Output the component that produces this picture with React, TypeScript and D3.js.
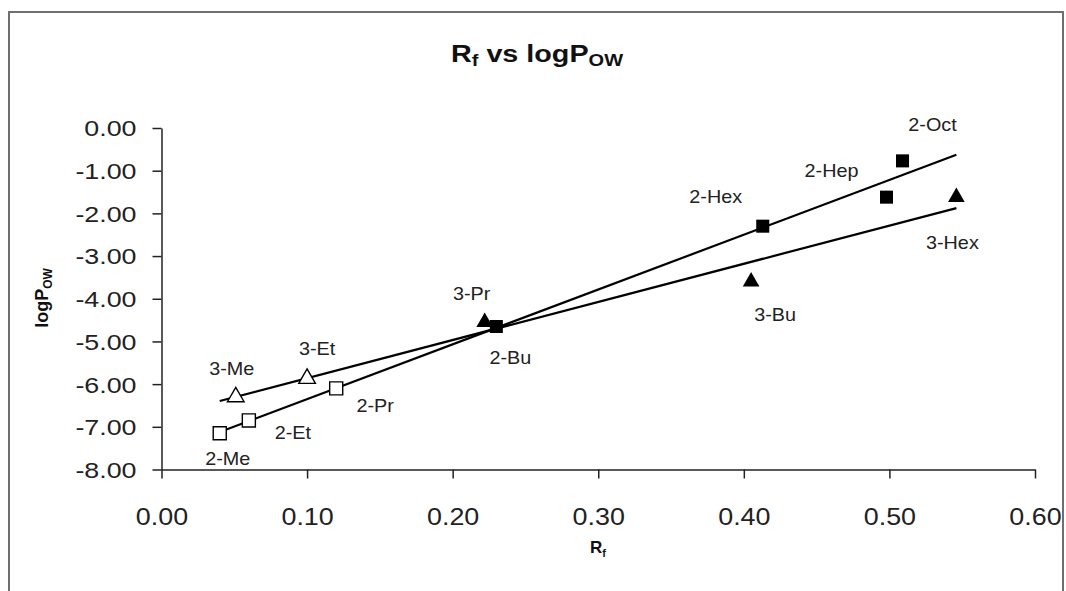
import React, { useEffect, useRef } from 'react';
import * as d3 from 'd3';

// 2-substituted compounds (squares)
const sqOpenNames = ['2-Me', '2-Et', '2-Pr'];
const sqOpenRf = [0.04, 0.06, 0.12];
const sqOpenLogP = [-7.15, -6.85, -6.1];
const sqFilledNames = ['2-Bu', '2-Hex', '2-Hep', '2-Oct'];
const sqFilledRf = [0.23, 0.413, 0.498, 0.509];
const sqFilledLogP = [-4.65, -2.3, -1.62, -0.77];

// 3-substituted compounds (triangles)
const triOpenNames = ['3-Me', '3-Et'];
const triOpenRf = [0.051, 0.1];
const triOpenLogP = [-6.3, -5.87];
const triFilledNames = ['3-Pr', '3-Bu', '3-Hex'];
const triFilledRf = [0.222, 0.405, 0.546];
const triFilledLogP = [-4.55, -3.6, -1.62];

const xTicks = [0, 0.1, 0.2, 0.3, 0.4, 0.5, 0.6];
const yTicks = [0, -1, -2, -3, -4, -5, -6, -7, -8];

// label offsets from the marker (text centre), px
const labelOffsets: Record<string, [number, number]> = {
  '2-Me': [8, 25], '2-Et': [44, 12], '2-Pr': [39, 17], '2-Bu': [14, 31],
  '2-Hex': [-47, -30], '2-Hep': [-55, -27], '2-Oct': [30, -36],
  '3-Me': [-4, -28], '3-Et': [10, -30], '3-Pr': [-13, -29],
  '3-Bu': [24, 33], '3-Hex': [-4, 45],
};

interface Pt { name: string; x: number; y: number; }

const zip = (names: string[], xs: number[], ys: number[]): Pt[] =>
  names.map((n, i) => ({ name: n, x: xs[i], y: ys[i] }));

// least squares fit
const fit = (pts: Pt[]) => {
  const mx = d3.mean(pts, d => d.x)!;
  const my = d3.mean(pts, d => d.y)!;
  const sxy = d3.sum(pts, d => (d.x - mx) * (d.y - my));
  const sxx = d3.sum(pts, d => (d.x - mx) ** 2);
  const b = sxy / sxx;
  return (x: number) => my + b * (x - mx);
};

const fmt = (d: d3.NumberValue) => (+d).toFixed(2);

const App: React.FC = () => {
  const svgRef = useRef<SVGSVGElement>(null);

  useEffect(() => {
    if (!svgRef.current) return;
    const svg = d3.select(svgRef.current);
    svg.selectAll('*').remove();

    const font = '"Liberation Sans", Arial, sans-serif';
    const x = d3.scaleLinear().domain([0, 0.6]).range([161.5, 1035]);
    const y = d3.scaleLinear().domain([-8, 0]).range([469.5, 128]);

    const sqOpen = zip(sqOpenNames, sqOpenRf, sqOpenLogP);
    const sqFilled = zip(sqFilledNames, sqFilledRf, sqFilledLogP);
    const triOpen = zip(triOpenNames, triOpenRf, triOpenLogP);
    const triFilled = zip(triFilledNames, triFilledRf, triFilledLogP);
    const squares = [...sqOpen, ...sqFilled];
    const triangles = [...triOpen, ...triFilled];
    const all = [...squares, ...triangles];

    // outer chart border
    svg.append('rect')
      .attr('x', 9).attr('y', 12).attr('width', 1054).attr('height', 600)
      .attr('fill', 'white').attr('stroke', '#6f6f6f').attr('stroke-width', 2);

    // title
    const title = svg.append('text')
      .attr('transform', 'translate(537,62) scale(1.25,1)')
      .attr('text-anchor', 'middle')
      .attr('font-family', font).attr('font-weight', 'bold').attr('font-size', 23)
      .attr('fill', '#111');
    title.append('tspan').text('R');
    title.append('tspan').attr('font-size', 16).attr('dy', 4).text('f');
    title.append('tspan').attr('dy', -4).text(' vs logP');
    title.append('tspan').attr('font-size', 16).attr('dy', 4).text('OW');

    // axes
    const yAxis = svg.append('g')
      .attr('transform', `translate(${x(0)},0)`)
      .call(d3.axisLeft(y).tickValues(yTicks).tickFormat(fmt).tickSize(9).tickSizeOuter(0));
    yAxis.selectAll('path, line').attr('stroke', '#222').attr('stroke-width', 1.5);
    yAxis.selectAll('text')
      .attr('font-family', font).attr('font-size', 22).attr('fill', '#222')
      .attr('x', -25 / 1.22).attr('dy', '0.36em')
      .attr('transform', 'scale(1.22,1)');

    const xAxis = svg.append('g')
      .attr('transform', `translate(0,${y(-8)})`)
      .call(d3.axisBottom(x).tickValues(xTicks).tickFormat(fmt).tickSize(9).tickSizeOuter(0));
    xAxis.selectAll('path, line').attr('stroke', '#222').attr('stroke-width', 1.5);
    xAxis.selectAll('text')
      .attr('font-family', font).attr('font-size', 24).attr('fill', '#222')
      .attr('x', 0).attr('y', 47).attr('dy', '0.36em')
      .attr('transform', 'scale(1.12,1)');

    // axis titles
    const yt = svg.append('text')
      .attr('transform', 'translate(48,298) rotate(-90)')
      .attr('text-anchor', 'middle')
      .attr('font-family', font).attr('font-weight', 'bold').attr('font-size', 18).attr('fill', '#111');
    yt.append('tspan').text('logP');
    yt.append('tspan').attr('font-size', 12).attr('dy', 4).text('OW');

    const xt = svg.append('text')
      .attr('x', 598).attr('y', 553)
      .attr('text-anchor', 'middle')
      .attr('font-family', font).attr('font-weight', 'bold').attr('font-size', 17).attr('fill', '#111');
    xt.append('tspan').text('R');
    xt.append('tspan').attr('font-size', 11).attr('dy', 4).text('f');

    // trend lines across the full Rf range
    const [x0, x1] = d3.extent(all, d => d.x) as [number, number];
    const line = d3.line<number[]>().x(d => x(d[0])).y(d => y(d[1]));
    [squares, triangles].forEach(series => {
      const f = fit(series);
      svg.append('path')
        .attr('d', line([[x0, f(x0)], [x1, f(x1)]]))
        .attr('fill', 'none').attr('stroke', '#000').attr('stroke-width', 2.2);
    });

    // markers
    const sq = d3.symbol().type(d3.symbolSquare).size(170);
    const tri = d3.symbol().type(d3.symbolTriangle).size(120);
    const draw = (pts: Pt[], gen: any, filled: boolean) => {
      svg.append('g').selectAll('path')
        .data(pts).enter().append('path')
        .attr('transform', d => `translate(${x(d.x)},${y(d.y)})`)
        .attr('d', gen())
        .attr('fill', filled ? '#000' : '#fff')
        .attr('stroke', '#000').attr('stroke-width', filled ? 0 : 1.4);
    };
    draw(sqOpen, sq, false);
    draw(sqFilled, sq, true);
    draw(triOpen, tri, false);
    draw(triFilled, tri, true);

    // point labels
    svg.append('g').selectAll('text')
      .data(all).enter().append('text')
      .attr('transform', d => {
        const o = labelOffsets[d.name] || [0, -20];
        return `translate(${x(d.x) + o[0]},${y(d.y) + o[1]}) scale(1.1,1)`;
      })
      .attr('text-anchor', 'middle').attr('dy', '0.36em')
      .attr('font-family', font).attr('font-size', 18).attr('fill', '#222')
      .text(d => d.name);
  }, []);

  return (
    <svg ref={svgRef} width={1066} height={591}
      style={{ position: 'absolute', left: 0, top: 0, background: '#fff' }} />
  );
};

export default App;
